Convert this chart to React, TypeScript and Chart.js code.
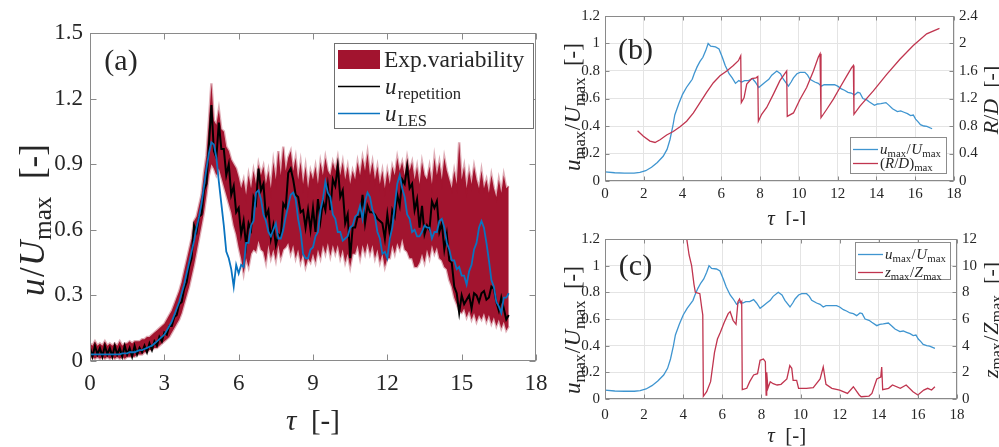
import React, { useEffect, useRef } from 'react';
import { Chart, registerables } from 'chart.js';

Chart.register(...registerables);

const SERIF = '"Liberation Serif", "Times New Roman", serif';
const INK = '#262626';
const BOX = '#8a8a8a';
const GRID = '#e4e4e4';
const RED = '#A2142F';
const BLUE_A = '#0a74c0';
const BLUE_BC = '#3f95d0';
const RED_BC = '#c0354f';

// ---------- Panel (a): sampled every TAU_STEP from tau = 0 ----------
const TAU_STEP = 0.1;
const EXP_UPPER = [
  0.08, 0.07, 0.09, 0.07, 0.08, 0.07, 0.09, 0.07, 0.08, 0.07,
  0.08, 0.07, 0.09, 0.07, 0.08, 0.08, 0.09, 0.08, 0.09, 0.09,
  0.09, 0.1, 0.1, 0.11, 0.11, 0.12, 0.13, 0.14, 0.15, 0.16,
  0.17, 0.19, 0.21, 0.23, 0.26, 0.29, 0.32, 0.36, 0.41, 0.46,
  0.51, 0.56, 0.64, 0.66, 0.71, 0.76, 0.86, 0.94, 1.1, 1.27,
  1.1, 1.08, 1.15, 1.06, 1.05, 0.98, 0.96, 0.92, 0.9, 0.88,
  0.84, 0.79, 0.83, 0.76, 0.85, 0.79, 0.87, 0.81, 0.9, 0.85,
  0.89, 0.81, 0.87, 0.79, 0.91, 0.83, 0.96, 0.85, 0.98, 0.87,
  0.93, 0.96, 0.87, 0.93, 0.83, 0.91, 0.81, 0.89, 0.79, 0.87,
  0.83, 0.89, 0.81, 0.91, 0.85, 0.93, 0.87, 0.85, 0.91, 0.87,
  0.93, 0.85, 0.91, 0.83, 0.89, 0.81, 0.87, 0.83, 0.91, 0.85,
  0.93, 0.87, 0.95, 0.85, 0.91, 0.83, 0.89, 0.81, 0.87, 0.79,
  0.87, 0.81, 0.89, 0.85, 0.93, 0.87, 0.91, 0.85, 0.93, 0.87,
  0.91, 0.83, 0.89, 0.81, 0.91, 0.85, 0.83, 0.89, 0.81, 0.93,
  0.85, 0.91, 0.83, 0.93, 0.87, 0.83, 0.79, 0.87, 0.81, 1.0,
  0.83, 0.89, 0.79, 0.87, 0.81, 0.89, 0.83, 0.79, 0.87, 0.79,
  0.83, 0.77, 0.85, 0.79, 0.75, 0.83, 0.77, 0.85, 0.79, 0.8,
];
const EXP_LOWER = [
  0.01, 0.02, 0.01, 0.02, 0.01, 0.02, 0.01, 0.02, 0.01, 0.02,
  0.01, 0.02, 0.01, 0.02, 0.01, 0.02, 0.02, 0.02, 0.02, 0.03,
  0.03, 0.03, 0.04, 0.04, 0.05, 0.05, 0.06, 0.06, 0.07, 0.08,
  0.09, 0.1, 0.11, 0.13, 0.15, 0.17, 0.19, 0.22, 0.26, 0.3,
  0.34, 0.39, 0.44, 0.5, 0.56, 0.62, 0.68, 0.76, 0.85, 0.9,
  0.88, 0.85, 0.88, 0.84, 0.8, 0.76, 0.72, 0.68, 0.62, 0.58,
  0.52, 0.47, 0.4, 0.47, 0.43, 0.49, 0.51, 0.5, 0.55, 0.51,
  0.5, 0.45, 0.53, 0.47, 0.51, 0.46, 0.53, 0.47, 0.51, 0.52,
  0.54, 0.49, 0.53, 0.47, 0.51, 0.45, 0.49, 0.43, 0.47, 0.45,
  0.49, 0.45, 0.51, 0.47, 0.53, 0.49, 0.54, 0.48, 0.53, 0.49,
  0.53, 0.47, 0.51, 0.45, 0.49, 0.43, 0.49, 0.49, 0.53, 0.47,
  0.53, 0.49, 0.54, 0.49, 0.53, 0.47, 0.51, 0.45, 0.49, 0.43,
  0.47, 0.47, 0.53, 0.49, 0.54, 0.51, 0.56, 0.51, 0.5, 0.47,
  0.47, 0.43, 0.43, 0.45, 0.49, 0.45, 0.51, 0.47, 0.53, 0.49,
  0.52, 0.47, 0.46, 0.43, 0.42, 0.37, 0.34, 0.29, 0.26, 0.23,
  0.22, 0.24, 0.2, 0.23, 0.19, 0.22, 0.18, 0.21, 0.19, 0.22,
  0.18, 0.21, 0.17, 0.2, 0.16, 0.19, 0.15, 0.18, 0.14, 0.16,
];
const U_REPETITION = [
  0.06, 0.02, 0.07, 0.03, 0.06, 0.02, 0.07, 0.03, 0.06, 0.02,
  0.07, 0.03, 0.06, 0.02, 0.07, 0.03, 0.06, 0.02, 0.07, 0.03,
  0.06, 0.04, 0.07, 0.04, 0.08, 0.05, 0.09, 0.07, 0.11, 0.09,
  0.13, 0.12, 0.16, 0.16, 0.2, 0.21, 0.26, 0.27, 0.33, 0.36,
  0.43, 0.47, 0.62, 0.59, 0.66, 0.67, 0.78, 0.81, 0.99, 1.17,
  0.96, 0.93, 1.09, 0.97, 0.97, 0.85, 0.9, 0.76, 0.8, 0.68,
  0.7, 0.58, 0.64, 0.53, 0.63, 0.6, 0.75, 0.72, 0.88, 0.78,
  0.81, 0.66, 0.69, 0.56, 0.62, 0.53, 0.58, 0.57, 0.72, 0.7,
  0.86, 0.88, 0.83, 0.76, 0.75, 0.68, 0.69, 0.61, 0.69, 0.6,
  0.7, 0.59, 0.74, 0.64, 0.73, 0.69, 0.8, 0.69, 0.83, 0.8,
  0.89, 0.75, 0.78, 0.63, 0.67, 0.47, 0.61, 0.61, 0.66, 0.66,
  0.76, 0.63, 0.71, 0.68, 0.68, 0.67, 0.65, 0.64, 0.63, 0.56,
  0.67, 0.58, 0.69, 0.66, 0.76, 0.71, 0.83, 0.81, 0.89, 0.79,
  0.81, 0.69, 0.74, 0.61, 0.71, 0.58, 0.62, 0.6, 0.73, 0.7,
  0.73, 0.59, 0.63, 0.51, 0.58, 0.46, 0.45, 0.34, 0.31, 0.22,
  0.3, 0.26, 0.28, 0.3, 0.24, 0.31, 0.3, 0.27, 0.31, 0.32,
  0.28, 0.29, 0.34, 0.33, 0.27, 0.23, 0.29, 0.24, 0.19, 0.21,
];
const U_LES = [
  0.03, 0.03, 0.03, 0.03, 0.03, 0.03, 0.03, 0.03, 0.03, 0.03,
  0.03, 0.03, 0.03, 0.035, 0.035, 0.035, 0.04, 0.04, 0.04, 0.045,
  0.05, 0.05, 0.055, 0.06, 0.065, 0.07, 0.08, 0.09, 0.1, 0.11,
  0.12, 0.14, 0.16, 0.18, 0.21, 0.24, 0.27, 0.31, 0.35, 0.4,
  0.45, 0.5, 0.55, 0.61, 0.66, 0.72, 0.8, 0.88, 0.95, 1.0,
  0.99, 0.93, 0.82, 0.72, 0.62, 0.5, 0.47, 0.42, 0.34, 0.44,
  0.4, 0.44, 0.43, 0.54, 0.54, 0.62, 0.64, 0.77, 0.78, 0.74,
  0.67, 0.64, 0.59, 0.57, 0.6, 0.63, 0.56, 0.56, 0.6, 0.66,
  0.71, 0.76, 0.77, 0.74, 0.65, 0.59, 0.49, 0.47, 0.47, 0.51,
  0.52, 0.57, 0.59, 0.69, 0.74, 0.82, 0.77, 0.75, 0.67, 0.65,
  0.59, 0.59, 0.55, 0.56, 0.57, 0.61, 0.62, 0.66, 0.67, 0.71,
  0.65, 0.73, 0.77, 0.75, 0.69, 0.66, 0.59, 0.56, 0.49, 0.5,
  0.47, 0.56, 0.61, 0.71, 0.81, 0.85, 0.79, 0.75, 0.67, 0.65,
  0.59, 0.6, 0.57, 0.57, 0.59, 0.62, 0.61, 0.61, 0.56, 0.59,
  0.59, 0.64, 0.65, 0.61, 0.54, 0.51, 0.46, 0.46, 0.42, 0.43,
  0.39, 0.39, 0.35, 0.41, 0.44, 0.51, 0.54, 0.61, 0.64, 0.61,
  0.54, 0.46, 0.37, 0.34, 0.27, 0.25, 0.22, 0.29, 0.29, 0.31,
];
const A_X_TICKS = [0, 3, 6, 9, 12, 15, 18];
const A_Y_TICKS = [0, 0.3, 0.6, 0.9, 1.2, 1.5];
const A_Y_LABELS = ['0', '0.3', '0.6', '0.9', '1.2', '1.5'];

// ---------- Panels (b) and (c) ----------
const UMAX_TAU = [
  0, 0.5, 1, 1.5, 1.8, 2.1, 2.4, 2.7, 3.0, 3.2, 3.35, 3.5, 3.6, 3.8, 4.0, 4.2, 4.35,
  4.5, 4.6, 4.75, 4.9, 5.05, 5.2, 5.32, 5.45, 5.7, 5.88, 6.05, 6.2, 6.4, 6.56, 6.73,
  6.9, 7.05, 7.2, 7.4, 7.6, 7.75, 7.93, 8.1, 8.27, 8.45, 8.6, 8.86, 9.05, 9.2, 9.46,
  9.6, 9.72, 9.9, 10.06, 10.31, 10.45, 10.57, 10.82, 11.0, 11.16, 11.3, 11.5, 11.84,
  12.0, 12.19, 12.35, 12.53, 12.7, 12.87, 13.04, 13.15, 13.3, 13.5, 13.64, 13.9,
  14.05, 14.23, 14.49, 14.65, 14.83, 15.08, 15.25, 15.42, 15.6, 15.76, 15.9, 16.02,
  16.15, 16.27, 16.45, 16.6, 16.87,
];
const UMAX_VAL = [
  0.066, 0.06, 0.058, 0.058, 0.063, 0.075, 0.1, 0.135, 0.18, 0.23, 0.3, 0.4, 0.48, 0.56,
  0.63, 0.68, 0.71, 0.74, 0.78, 0.83, 0.87, 0.9, 0.95, 1.0, 0.98, 0.975, 0.96, 0.9,
  0.84, 0.78, 0.75, 0.71, 0.73, 0.72, 0.73, 0.73, 0.745, 0.72, 0.68, 0.7, 0.72, 0.74,
  0.77, 0.8, 0.78, 0.74, 0.69, 0.72, 0.75, 0.78, 0.79, 0.79, 0.77, 0.74, 0.72, 0.71,
  0.69, 0.7, 0.7, 0.7, 0.69, 0.67, 0.66, 0.645, 0.64, 0.625, 0.645, 0.64, 0.6, 0.59,
  0.575, 0.55, 0.56, 0.563, 0.57, 0.55, 0.525, 0.505, 0.51, 0.5, 0.49, 0.476, 0.48,
  0.45, 0.43, 0.41, 0.4, 0.397, 0.38,
];
const RD_TAU = [
  1.68, 1.98, 2.32, 2.58, 2.84, 3.18, 3.52, 3.87, 4.21, 4.56, 4.9, 5.24, 5.59, 5.93,
  6.28, 6.62, 6.88, 7.0, 7.03, 7.17, 7.31, 7.57, 7.79, 7.88, 7.91, 8.08, 8.34, 8.68,
  9.02, 9.37, 9.4, 9.72, 10.06, 10.4, 10.75, 11.0, 11.09, 11.14, 11.43, 11.78, 12.12,
  12.47, 12.72, 12.81, 12.84, 13.15, 13.84, 14.53, 15.21, 15.9, 16.59, 17.25,
];
const RD_VAL = [
  0.73, 0.65, 0.58, 0.56, 0.6, 0.67, 0.72, 0.79, 0.87, 0.99, 1.14, 1.29, 1.43, 1.53,
  1.6, 1.68, 1.75, 1.82, 1.14, 1.21, 1.41, 1.49, 1.5, 1.52, 0.87, 0.97, 1.07, 1.26,
  1.46, 1.6, 0.94, 0.99, 1.19, 1.36, 1.6, 1.8, 1.85, 0.92, 1.04, 1.19, 1.36, 1.53,
  1.65, 1.68, 0.97, 1.09, 1.31, 1.55, 1.77, 1.97, 2.14, 2.22,
];
const ZMAX_TAU = [
  4.1, 4.18, 4.3, 4.43, 4.55, 4.62, 4.85, 4.95, 5.0, 5.03, 5.2, 5.4, 5.6, 5.75, 5.9,
  6.1, 6.3, 6.4, 6.55, 6.7, 6.8, 6.88, 6.95, 6.99, 7.02, 7.25, 7.4, 7.6, 7.8, 7.93,
  8.1, 8.2, 8.24, 8.27, 8.33, 8.45, 8.6, 8.8, 9.0, 9.3, 9.45, 9.55, 9.62, 9.8, 9.9,
  10.3, 10.65, 11.0, 11.16, 11.3, 11.6, 12.0, 12.4, 12.7, 13.0, 13.1, 13.5, 13.65,
  13.9, 14.1, 14.15, 14.2, 14.5, 14.7, 15.1, 15.4, 15.75, 16.0, 16.3, 16.5, 16.7, 16.87,
];
const ZMAX_VAL = [
  13, 12, 10.8, 10, 8.6, 8.0, 7.9, 6.8, 6.3, 0.2, 0.55, 1.3, 3.5, 4.5, 5.0, 5.75, 6.4,
  6.55, 5.9, 5.6, 7.3, 7.5, 7.2, 7.3, 0.7, 0.8, 1.3, 1.8, 1.9, 2.9, 3.0, 2.8, 0.3, 2.0,
  0.8, 1.3, 1.15, 1.05, 1.1, 1.5, 2.5, 2.3, 1.4, 1.4, 0.8, 0.8, 0.85, 1.5, 2.4, 1.1, 0.8,
  0.67, 0.42, 0.92, 0.3, 0.17, 0.22, 0.42, 1.5, 1.65, 2.4, 0.7, 0.8, 1.05, 0.8, 1.05,
  0.55, 0.3, 0.67, 0.8, 0.67, 0.92,
];
const BC_X_TICKS = [0, 2, 4, 6, 8, 10, 12, 14, 16, 18];
const BC_Y_TICKS = [0, 0.2, 0.4, 0.6, 0.8, 1, 1.2];
const BC_Y_LABELS = ['0', '0.2', '0.4', '0.6', '0.8', '1', '1.2'];
const B_R_TICKS = [0, 0.4, 0.8, 1.2, 1.6, 2, 2.4];
const B_R_LABELS = ['0', '0.4', '0.8', '1.2', '1.6', '2', '2.4'];
const C_R_TICKS = [0, 2, 4, 6, 8, 10, 12];
const C_R_LABELS = ['0', '2', '4', '6', '8', '10', '12'];

// ---------- helpers ----------
type Seg = { t: string; i?: boolean; s?: boolean; g?: number };

const segFont = (g: Seg, size: number) =>
  `${g.i ? 'italic ' : ''}${g.s ? size * 0.72 : size}px ${SERIF}`;

function richWidth(ctx: CanvasRenderingContext2D, segs: Seg[], size: number) {
  let w = 0;
  for (const g of segs) {
    ctx.font = segFont(g, size);
    w += ctx.measureText(g.t).width + (g.g || 0) * size;
  }
  return w;
}

function drawRich(
  ctx: CanvasRenderingContext2D,
  segs: Seg[],
  x: number,
  y: number,
  size: number,
  align: 'left' | 'center' = 'left',
  rot = 0,
  color = INK
) {
  ctx.save();
  ctx.translate(x, y);
  if (rot) ctx.rotate(rot);
  const w = richWidth(ctx, segs, size);
  let cx = align === 'center' ? -w / 2 : 0;
  ctx.fillStyle = color;
  ctx.textBaseline = 'alphabetic';
  ctx.textAlign = 'left';
  for (const g of segs) {
    ctx.font = segFont(g, size);
    ctx.fillText(g.t, cx, size * 0.32 + (g.s ? size * 0.2 : 0));
    cx += ctx.measureText(g.t).width + (g.g || 0) * size;
  }
  ctx.restore();
}

const seq = (vals: number[]) => vals.map((y, i) => ({ x: Math.round(i * TAU_STEP * 100) / 100, y }));
const pairs = (xs: number[], ys: number[]) => xs.map((x, i) => ({ x, y: ys[i] }));

const labelFor = (ticks: number[], labels: string[]) => (v: any) => {
  const i = ticks.findIndex((t) => Math.abs(t - Number(v)) < 1e-6);
  return i >= 0 ? labels[i] : '';
};
const fixTicks = (ticks: number[]) => (s: any) => {
  s.ticks = ticks.map((value) => ({ value }));
};

function line(ctx: CanvasRenderingContext2D, x1: number, y1: number, x2: number, y2: number) {
  ctx.beginPath();
  ctx.moveTo(x1, y1);
  ctx.lineTo(x2, y2);
  ctx.stroke();
}

function drawBoxAndTicks(
  chart: any,
  xt: number[],
  yl: number[],
  yr: number[] | null,
  len: number,
  rightId: string
) {
  const { ctx, chartArea: ca, scales } = chart;
  const L = Math.round(ca.left) + 0.5;
  const R = Math.round(ca.right) - 0.5;
  const T = Math.round(ca.top) + 0.5;
  const B = Math.round(ca.bottom) - 0.5;
  ctx.save();
  ctx.strokeStyle = BOX;
  ctx.lineWidth = 1;
  ctx.strokeRect(L, T, R - L, B - T);
  for (const v of xt) {
    const px = Math.round(scales.x.getPixelForValue(v)) + 0.5;
    line(ctx, px, B, px, B - len);
    line(ctx, px, T, px, T + len);
  }
  for (const v of yl) {
    const py = Math.round(scales.y.getPixelForValue(v)) + 0.5;
    line(ctx, L, py, L + len, py);
    if (!yr) line(ctx, R, py, R - len, py);
  }
  if (yr) {
    for (const v of yr) {
      const py = Math.round(scales[rightId].getPixelForValue(v)) + 0.5;
      line(ctx, R, py, R - len, py);
    }
  }
  ctx.restore();
}

const U_OVER: Seg[] = [
  { t: 'u', i: true, g: 0.04 },
  { t: '/', g: 0.04 },
  { t: 'U', i: true, g: 0.02 },
  { t: 'max', s: true },
  { t: '  [-]' },
];
const TAU_T: Seg[] = [{ t: 'τ', i: true }, { t: '  [-]' }];
const UMAX_OVER: Seg[] = [
  { t: 'u', i: true },
  { t: 'max', s: true, g: 0.03 },
  { t: '/', g: 0.03 },
  { t: 'U', i: true, g: 0.02 },
  { t: 'max', s: true },
];
const RD_T: Seg[] = [{ t: 'R', i: true }, { t: '/' }, { t: 'D', i: true }, { t: '  [-]' }];
const ZMAX_OVER: Seg[] = [
  { t: 'z', i: true },
  { t: 'max', s: true, g: 0.03 },
  { t: '/', g: 0.03 },
  { t: 'Z', i: true, g: 0.02 },
  { t: 'max', s: true },
];
const RD_MAX: Seg[] = [{ t: '(' }, { t: 'R', i: true }, { t: '/' }, { t: 'D', i: true }, { t: ')' }, { t: 'max', s: true }];

const baseScale = (size: number) => ({
  font: { family: SERIF, size },
  color: INK,
  maxRotation: 0,
  autoSkip: false,
});

// ---------- chart builders ----------
function buildA(canvas: HTMLCanvasElement) {
  const deco = {
    id: 'decoA',
    afterDraw(chart: any) {
      const ctx: CanvasRenderingContext2D = chart.ctx;
      drawBoxAndTicks(chart, A_X_TICKS, A_Y_TICKS, null, 6, 'y');
      drawRich(ctx, U_OVER, 33, 220, 35, 'center', -Math.PI / 2);
      drawRich(ctx, TAU_T, 313, 421, 29, 'center');
      drawRich(ctx, [{ t: '(a)' }], 121, 60, 30, 'center');
      // legend
      ctx.save();
      ctx.fillStyle = '#fff';
      ctx.fillRect(334, 43, 200, 86);
      ctx.strokeStyle = '#707070';
      ctx.lineWidth = 1;
      ctx.strokeRect(334.5, 43.5, 199, 85);
      ctx.fillStyle = RED;
      ctx.fillRect(338, 50, 42, 19);
      ctx.lineWidth = 1.6;
      ctx.strokeStyle = '#000';
      line(ctx, 338, 86.5, 380, 86.5);
      ctx.strokeStyle = BLUE_A;
      line(ctx, 338, 113.5, 380, 113.5);
      ctx.restore();
      drawRich(ctx, [{ t: 'Exp.variability' }], 384, 59.5, 23.5);
      drawRich(ctx, [{ t: 'u', i: true, g: 0.05 }, { t: 'repetition', s: true }], 385, 87, 23);
      drawRich(ctx, [{ t: 'u', i: true, g: 0.05 }, { t: 'LES', s: true }], 385, 114, 23);
    },
  };
  return new Chart(canvas, {
    type: 'line',
    data: {
      datasets: [
        { data: seq(U_LES), borderColor: BLUE_A, borderWidth: 1.8, pointRadius: 0, fill: false, order: 0 },
        { data: seq(U_REPETITION), borderColor: '#000', borderWidth: 2, pointRadius: 0, fill: false, order: 1 },
        {
          data: seq(EXP_UPPER),
          borderColor: 'rgba(162,20,47,0.35)',
          borderWidth: 2.5,
          backgroundColor: RED,
          pointRadius: 0,
          fill: 3,
          order: 2,
        },
        {
          data: seq(EXP_LOWER),
          borderColor: 'rgba(162,20,47,0.35)',
          borderWidth: 2.5,
          pointRadius: 0,
          fill: false,
          order: 3,
        },
      ],
    } as any,
    options: {
      animation: false,
      responsive: false,
      events: [],
      layout: { padding: { left: 0, right: 24, top: 33, bottom: 0 } },
      plugins: { legend: { display: false }, tooltip: { enabled: false } },
      scales: {
        x: {
          type: 'linear',
          min: 0,
          max: 18,
          afterBuildTicks: fixTicks(A_X_TICKS),
          ticks: { ...baseScale(23), padding: 9, callback: (v: any) => String(v) },
          grid: { display: false, drawTicks: false },
          border: { display: false },
          afterFit: (s: any) => {
            s.height = 86;
          },
        },
        y: {
          type: 'linear',
          min: 0,
          max: 1.5,
          afterBuildTicks: fixTicks(A_Y_TICKS),
          ticks: { ...baseScale(23), padding: 7, callback: labelFor(A_Y_TICKS, A_Y_LABELS) },
          grid: { display: false, drawTicks: false },
          border: { display: false },
          afterFit: (s: any) => {
            s.width = 90;
          },
        },
      },
    } as any,
    plugins: [deco],
  });
}

function buildBC(canvas: HTMLCanvasElement, kind: 'b' | 'c') {
  const isB = kind === 'b';
  const top = isB ? 16 : 13;
  const xh = isB ? 44 : 48;
  const rw = isB ? 45 : 42;
  const rTicks = isB ? B_R_TICKS : C_R_TICKS;
  const rLabels = isB ? B_R_LABELS : C_R_LABELS;
  const deco = {
    id: 'deco' + kind,
    afterDraw(chart: any) {
      const ctx: CanvasRenderingContext2D = chart.ctx;
      drawBoxAndTicks(chart, BC_X_TICKS, BC_Y_TICKS, rTicks, 4, 'y1');
      drawRich(ctx, [...UMAX_OVER, { t: '  [-]' }], 13, isB ? 107 : 105, 23, 'center', -Math.PI / 2);
      drawRich(ctx, TAU_T, 226.7, isB ? 218 : 210, 21, 'center');
      if (isB) drawRich(ctx, RD_T, 431, 100, 22, 'center', -Math.PI / 2);
      else drawRich(ctx, [...ZMAX_OVER, { t: '  [-]' }], 431, 95, 22, 'center', -Math.PI / 2);
      drawRich(ctx, [{ t: isB ? '(b)' : '(c)' }], 75.5, isB ? 49 : 40.5, 30, 'center');
      // legend
      const bx = isB ? 290 : 295;
      const by = isB ? 137 : 17;
      const bw = isB ? 97 : 96;
      const bh = isB ? 37 : 38;
      const y1 = isB ? 149.5 : 29.5;
      const y2 = isB ? 163.5 : 47.5;
      ctx.save();
      ctx.fillStyle = '#fff';
      ctx.fillRect(bx, by, bw, bh);
      ctx.strokeStyle = '#8c8c8c';
      ctx.lineWidth = 1;
      ctx.strokeRect(bx + 0.5, by + 0.5, bw - 1, bh - 1);
      ctx.lineWidth = 1.3;
      ctx.strokeStyle = BLUE_BC;
      line(ctx, bx + 3, y1, bx + 28, y1);
      ctx.strokeStyle = RED_BC;
      line(ctx, bx + 3, y2, bx + 28, y2);
      ctx.restore();
      drawRich(ctx, UMAX_OVER, bx + 30, y1, 15);
      drawRich(ctx, isB ? RD_MAX : ZMAX_OVER, bx + 30, y2, 15);
    },
  };
  return new Chart(canvas, {
    type: 'line',
    data: {
      datasets: [
        {
          data: isB ? pairs(RD_TAU, RD_VAL) : pairs(ZMAX_TAU, ZMAX_VAL),
          yAxisID: 'y1',
          borderColor: RED_BC,
          borderWidth: 1.3,
          pointRadius: 0,
          fill: false,
          order: 0,
        },
        {
          data: pairs(UMAX_TAU, UMAX_VAL),
          yAxisID: 'y',
          borderColor: BLUE_BC,
          borderWidth: 1.3,
          pointRadius: 0,
          fill: false,
          order: 1,
        },
      ],
    } as any,
    options: {
      animation: false,
      responsive: false,
      events: [],
      layout: { padding: { left: 0, right: 0, top, bottom: 0 } },
      plugins: { legend: { display: false }, tooltip: { enabled: false } },
      scales: {
        x: {
          type: 'linear',
          min: 0,
          max: 18,
          afterBuildTicks: fixTicks(BC_X_TICKS),
          ticks: { ...baseScale(15), padding: isB ? 4 : 7, callback: (v: any) => String(v) },
          grid: { color: GRID, drawTicks: false },
          border: { display: false },
          afterFit: (s: any) => {
            s.height = xh;
          },
        },
        y: {
          type: 'linear',
          position: 'left',
          min: 0,
          max: 1.2,
          afterBuildTicks: fixTicks(BC_Y_TICKS),
          ticks: { ...baseScale(15), padding: 5, callback: labelFor(BC_Y_TICKS, BC_Y_LABELS) },
          grid: { color: GRID, drawTicks: false },
          border: { display: false },
          afterFit: (s: any) => {
            s.width = 45;
          },
        },
        y1: {
          type: 'linear',
          position: 'right',
          min: 0,
          max: isB ? 2.4 : 12,
          afterBuildTicks: fixTicks(rTicks),
          ticks: { ...baseScale(15), padding: 5, callback: labelFor(rTicks, rLabels) },
          grid: { display: false, drawTicks: false },
          border: { display: false },
          afterFit: (s: any) => {
            s.width = rw;
          },
        },
      },
    } as any,
    plugins: [deco],
  });
}

export default function App() {
  const aRef = useRef<HTMLCanvasElement>(null);
  const bRef = useRef<HTMLCanvasElement>(null);
  const cRef = useRef<HTMLCanvasElement>(null);

  useEffect(() => {
    const charts: Chart[] = [];
    if (aRef.current) charts.push(buildA(aRef.current));
    if (bRef.current) charts.push(buildBC(bRef.current, 'b'));
    if (cRef.current) charts.push(buildBC(cRef.current, 'c'));
    return () => charts.forEach((c) => c.destroy());
  }, []);

  const abs = (left: number, top: number, w: number, h: number): React.CSSProperties => ({
    position: 'absolute',
    left,
    top,
    width: w,
    height: h,
  });

  return (
    <div style={{ position: 'absolute', left: 0, top: 0, width: 999, height: 447, background: '#fff', overflow: 'hidden' }}>
      <canvas ref={aRef} width={560} height={447} style={abs(0, 0, 560, 447)} />
      <canvas ref={bRef} width={439} height={225} style={abs(560, 0, 439, 225)} />
      <canvas ref={cRef} width={439} height={222} style={abs(560, 225, 439, 222)} />
    </div>
  );
}
